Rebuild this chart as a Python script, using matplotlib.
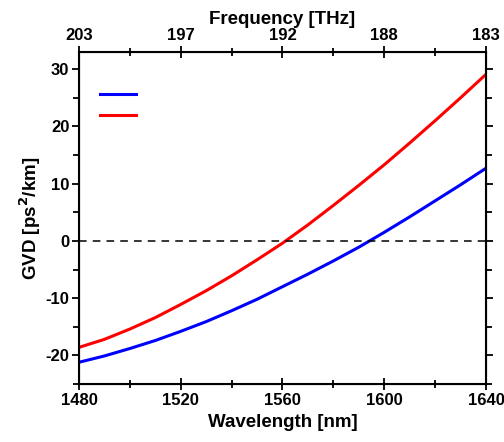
import matplotlib
matplotlib.use('Agg')
import matplotlib.pyplot as plt
from matplotlib.ticker import MultipleLocator

plt.rcParams['font.family'] = ['Liberation Sans', 'DejaVu Sans']
plt.rcParams['font.weight'] = 'bold'
plt.rcParams['axes.unicode_minus'] = False

# wavelength grid [nm] and GVD curves [ps^2/km]
wavelength = [1480, 1490, 1500, 1510, 1520, 1530, 1540, 1550, 1560,
              1570, 1580, 1590, 1600, 1610, 1620, 1630, 1640]
gvd_blue = [-21.2, -20.1, -18.8, -17.4, -15.8, -14.1, -12.2, -10.2, -8.0,
            -5.8, -3.5, -1.1, 1.5, 4.2, 7.0, 9.8, 12.7]
gvd_red = [-18.6, -17.2, -15.4, -13.4, -11.1, -8.7, -6.1, -3.3, -0.4,
           2.8, 6.2, 9.7, 13.3, 17.1, 21.0, 25.0, 29.1]

x_ticks = [1480, 1520, 1560, 1600, 1640]
freq_labels = ['203', '197', '192', '188', '183']

fig = plt.figure(figsize=(5.04, 4.42), dpi=100)
ax = fig.add_axes([0.1567, 0.1312, 0.8076, 0.7512])

l1, = ax.plot(wavelength, gvd_blue, color='#0000ff', lw=2.2)
l2, = ax.plot(wavelength, gvd_red, color='#ff0000', lw=2.2)
ax.axhline(0, color='black', lw=1.1, ls=(0, (5, 4)))

ax.set_xlim(1480, 1640)
ax.set_ylim(-25, 33)
ax.set_xticks(x_ticks)
ax.xaxis.set_minor_locator(MultipleLocator(20))
ax.yaxis.set_major_locator(MultipleLocator(10))
ax.yaxis.set_minor_locator(MultipleLocator(5))

ax.set_xlabel('Wavelength [nm]', fontsize=13.5, fontweight='bold', labelpad=4)
ax.set_ylabel('GVD [ps$^\\mathbf{2}$/km]', fontsize=13.5, fontweight='bold', labelpad=2)

ax.tick_params(axis='x', which='major', direction='inout', length=9, width=1.3,
               labelsize=12, pad=2)
ax.tick_params(axis='x', which='minor', direction='inout', length=6, width=1.3)
ax.tick_params(axis='y', which='major', direction='out', length=5, width=1.3,
               labelsize=12, right=True, pad=2)
ax.tick_params(axis='y', which='minor', direction='out', length=4, width=1.3,
               right=True)
for s in ax.spines.values():
    s.set_linewidth(1.5)

ax.legend([l1, l2], ['', ''], loc='upper left', frameon=False,
          handlelength=2.6, bbox_to_anchor=(0.02, 0.93), labelspacing=0.55)

# top frequency axis
ax2 = ax.twiny()
ax2.set_xlim(ax.get_xlim())
ax2.set_xticks(x_ticks)
ax2.set_xticklabels(freq_labels)
ax2.xaxis.set_minor_locator(MultipleLocator(20))
ax2.set_xlabel('Frequency [THz]', fontsize=13.5, fontweight='bold', labelpad=3)
ax2.tick_params(axis='x', which='major', direction='inout', length=9, width=1.3,
                labelsize=12, pad=2)
ax2.tick_params(axis='x', which='minor', direction='inout', length=6, width=1.3)

fig.savefig('out.png', dpi=100)
